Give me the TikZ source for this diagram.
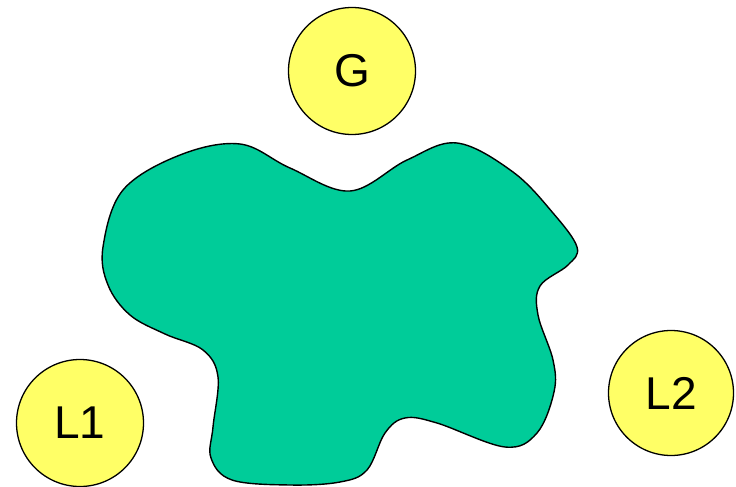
\documentclass[tikz,border=0pt]{standalone}
\usepackage{fontspec}
\setmainfont{Liberation Sans}
\definecolor{blobgreen}{HTML}{00CC99}
\definecolor{nodeyellow}{HTML}{FFFF66}
\begin{document}
\begin{tikzpicture}[x=1pt,y=-1pt,
  agent/.style={circle,draw=black,line width=1.3pt,fill=nodeyellow,minimum size=127pt,inner sep=0pt,font=\fontsize{46}{55}\selectfont},
  blob/.style={draw=black,line width=1.4pt,fill=blobgreen}]
\useasboundingbox (0,0) rectangle (736,487);
\draw[blob] plot[smooth cycle,tension=0.6] coordinates {
(240,144) (290,168) (350,191) (407,160) (457,143) (513,172) (553,213)
(577,247) (568,265) (540,286) (538,315) (553,360) (554,392)
(537,433) (505,447) (437,423) (405,418) (385,433) (367,470)
(340,482) (290,485) (232,480) (211,458) (213,427) (218,377)
(203,350) (165,334) (130,315) (108,285) (103,247) (123,190) (180,155)};
\node[agent] (G) at (352,71) {G};
\node[agent] (L1) at (80,423) {L1};
\node[agent,minimum size=125pt] (L2) at (671,393) {L2};
\end{tikzpicture}
\end{document}
